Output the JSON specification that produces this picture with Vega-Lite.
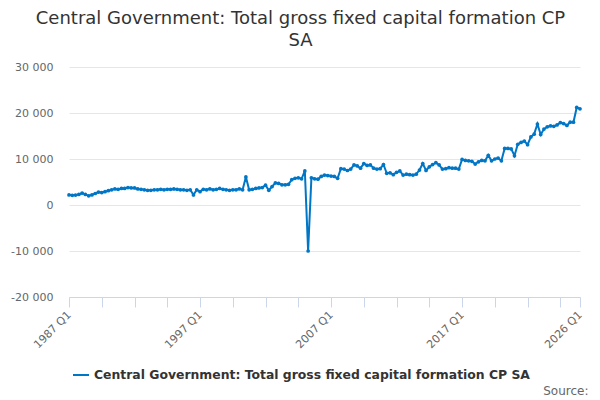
{
  "$schema": "https://vega.github.io/schema/vega-lite/v6.json",
  "width": 511,
  "height": 230,
  "autosize": {"type": "none"},
  "padding": {"left": 69, "top": 67, "right": 20, "bottom": 103},
  "background": "white",
  "config": {
    "font": "DejaVu Sans",
    "view": {"stroke": null}
  },
  "title": {
    "text": ["Central Government: Total gross fixed capital formation CP", "SA"],
    "fontSize": 18,
    "fontWeight": "normal",
    "color": "#333333",
    "anchor": "middle",
    "dx": -24,
    "offset": 11,
    "lineHeight": 22
  },
  "data": {
    "values": [
      {"q": "1987 Q1", "v": 2200}, {"q": "1987 Q2", "v": 2100}, {"q": "1987 Q3", "v": 2150}, {"q": "1987 Q4", "v": 2300},
      {"q": "1988 Q1", "v": 2600}, {"q": "1988 Q2", "v": 2300}, {"q": "1988 Q3", "v": 2000}, {"q": "1988 Q4", "v": 2200},
      {"q": "1989 Q1", "v": 2500}, {"q": "1989 Q2", "v": 2800}, {"q": "1989 Q3", "v": 2700}, {"q": "1989 Q4", "v": 2900},
      {"q": "1990 Q1", "v": 3100}, {"q": "1990 Q2", "v": 3300}, {"q": "1990 Q3", "v": 3500}, {"q": "1990 Q4", "v": 3400},
      {"q": "1991 Q1", "v": 3600}, {"q": "1991 Q2", "v": 3600}, {"q": "1991 Q3", "v": 3800}, {"q": "1991 Q4", "v": 3700},
      {"q": "1992 Q1", "v": 3700}, {"q": "1992 Q2", "v": 3500}, {"q": "1992 Q3", "v": 3400}, {"q": "1992 Q4", "v": 3300},
      {"q": "1993 Q1", "v": 3200}, {"q": "1993 Q2", "v": 3200}, {"q": "1993 Q3", "v": 3300}, {"q": "1993 Q4", "v": 3300},
      {"q": "1994 Q1", "v": 3400}, {"q": "1994 Q2", "v": 3300}, {"q": "1994 Q3", "v": 3400}, {"q": "1994 Q4", "v": 3400},
      {"q": "1995 Q1", "v": 3500}, {"q": "1995 Q2", "v": 3400}, {"q": "1995 Q3", "v": 3300}, {"q": "1995 Q4", "v": 3300},
      {"q": "1996 Q1", "v": 3200}, {"q": "1996 Q2", "v": 3300}, {"q": "1996 Q3", "v": 2200}, {"q": "1996 Q4", "v": 3300},
      {"q": "1997 Q1", "v": 2900}, {"q": "1997 Q2", "v": 3400}, {"q": "1997 Q3", "v": 3300}, {"q": "1997 Q4", "v": 3500},
      {"q": "1998 Q1", "v": 3300}, {"q": "1998 Q2", "v": 3400}, {"q": "1998 Q3", "v": 3600}, {"q": "1998 Q4", "v": 3400},
      {"q": "1999 Q1", "v": 3300}, {"q": "1999 Q2", "v": 3200}, {"q": "1999 Q3", "v": 3300}, {"q": "1999 Q4", "v": 3300},
      {"q": "2000 Q1", "v": 3500}, {"q": "2000 Q2", "v": 3300}, {"q": "2000 Q3", "v": 6100}, {"q": "2000 Q4", "v": 3300},
      {"q": "2001 Q1", "v": 3400}, {"q": "2001 Q2", "v": 3600}, {"q": "2001 Q3", "v": 3700}, {"q": "2001 Q4", "v": 3800},
      {"q": "2002 Q1", "v": 4300}, {"q": "2002 Q2", "v": 3200}, {"q": "2002 Q3", "v": 4000}, {"q": "2002 Q4", "v": 4800},
      {"q": "2003 Q1", "v": 4700}, {"q": "2003 Q2", "v": 4400}, {"q": "2003 Q3", "v": 4400}, {"q": "2003 Q4", "v": 4500},
      {"q": "2004 Q1", "v": 5500}, {"q": "2004 Q2", "v": 5800}, {"q": "2004 Q3", "v": 5900}, {"q": "2004 Q4", "v": 5700},
      {"q": "2005 Q1", "v": 7400}, {"q": "2005 Q2", "v": -10000}, {"q": "2005 Q3", "v": 5900}, {"q": "2005 Q4", "v": 5700},
      {"q": "2006 Q1", "v": 5600}, {"q": "2006 Q2", "v": 6200}, {"q": "2006 Q3", "v": 6500}, {"q": "2006 Q4", "v": 6400},
      {"q": "2007 Q1", "v": 6300}, {"q": "2007 Q2", "v": 6200}, {"q": "2007 Q3", "v": 5800}, {"q": "2007 Q4", "v": 7900},
      {"q": "2008 Q1", "v": 7800}, {"q": "2008 Q2", "v": 7500}, {"q": "2008 Q3", "v": 7800}, {"q": "2008 Q4", "v": 8700},
      {"q": "2009 Q1", "v": 8500}, {"q": "2009 Q2", "v": 8000}, {"q": "2009 Q3", "v": 9000}, {"q": "2009 Q4", "v": 8600},
      {"q": "2010 Q1", "v": 8700}, {"q": "2010 Q2", "v": 8000}, {"q": "2010 Q3", "v": 7800}, {"q": "2010 Q4", "v": 7900},
      {"q": "2011 Q1", "v": 8800}, {"q": "2011 Q2", "v": 6900}, {"q": "2011 Q3", "v": 7000}, {"q": "2011 Q4", "v": 6600},
      {"q": "2012 Q1", "v": 7100}, {"q": "2012 Q2", "v": 7400}, {"q": "2012 Q3", "v": 6500}, {"q": "2012 Q4", "v": 6700},
      {"q": "2013 Q1", "v": 6600}, {"q": "2013 Q2", "v": 6500}, {"q": "2013 Q3", "v": 6700}, {"q": "2013 Q4", "v": 7600},
      {"q": "2014 Q1", "v": 9000}, {"q": "2014 Q2", "v": 7500}, {"q": "2014 Q3", "v": 8300}, {"q": "2014 Q4", "v": 8800},
      {"q": "2015 Q1", "v": 9200}, {"q": "2015 Q2", "v": 8700}, {"q": "2015 Q3", "v": 7800}, {"q": "2015 Q4", "v": 7900},
      {"q": "2016 Q1", "v": 8100}, {"q": "2016 Q2", "v": 8000}, {"q": "2016 Q3", "v": 8000}, {"q": "2016 Q4", "v": 7800},
      {"q": "2017 Q1", "v": 9900}, {"q": "2017 Q2", "v": 9700}, {"q": "2017 Q3", "v": 9600}, {"q": "2017 Q4", "v": 9500},
      {"q": "2018 Q1", "v": 8900}, {"q": "2018 Q2", "v": 9400}, {"q": "2018 Q3", "v": 9700}, {"q": "2018 Q4", "v": 9600},
      {"q": "2019 Q1", "v": 10800}, {"q": "2019 Q2", "v": 9600}, {"q": "2019 Q3", "v": 10000}, {"q": "2019 Q4", "v": 10200},
      {"q": "2020 Q1", "v": 9600}, {"q": "2020 Q2", "v": 12300}, {"q": "2020 Q3", "v": 12300}, {"q": "2020 Q4", "v": 12200},
      {"q": "2021 Q1", "v": 10700}, {"q": "2021 Q2", "v": 13200}, {"q": "2021 Q3", "v": 13600}, {"q": "2021 Q4", "v": 13900},
      {"q": "2022 Q1", "v": 13100}, {"q": "2022 Q2", "v": 14800}, {"q": "2022 Q3", "v": 15400}, {"q": "2022 Q4", "v": 17600},
      {"q": "2023 Q1", "v": 15300}, {"q": "2023 Q2", "v": 16500}, {"q": "2023 Q3", "v": 17000}, {"q": "2023 Q4", "v": 17200},
      {"q": "2024 Q1", "v": 17100}, {"q": "2024 Q2", "v": 17400}, {"q": "2024 Q3", "v": 17900}, {"q": "2024 Q4", "v": 17700},
      {"q": "2025 Q1", "v": 17300}, {"q": "2025 Q2", "v": 18000}, {"q": "2025 Q3", "v": 18000}, {"q": "2025 Q4", "v": 21200},
      {"q": "2026 Q1", "v": 20900}
    ]
  },
  "mark": {
    "type": "line",
    "strokeWidth": 2,
    "point": {"filled": true, "size": 14}
  },
  "encoding": {
    "x": {
      "field": "q",
      "type": "ordinal",
      "scale": {"type": "point", "padding": 0},
      "axis": {
        "values": ["1987 Q1", "1989 Q3", "1992 Q1", "1994 Q3", "1997 Q1", "1999 Q3", "2002 Q1", "2004 Q3", "2007 Q1", "2009 Q3", "2012 Q1", "2014 Q3", "2017 Q1", "2019 Q3", "2022 Q1", "2024 Q3", "2026 Q1"],
        "labelExpr": "indexof(['1987 Q1','1997 Q1','2007 Q1','2017 Q1','2026 Q1'], datum.value) >= 0 ? datum.value : ''",
        "labelAngle": -45,
        "labelAlign": "right",
        "labelBaseline": "middle",
        "labelFontSize": 11,
        "labelColor": "#666666",
        "labelPadding": 6,
        "labelOverlap": false,
        "tickSize": 10,
        "tickColor": "#ccd6eb",
        "domainColor": "#ccd6eb",
        "grid": false,
        "title": "Source:",
        "titleX": 519,
        "titleY": 97,
        "titleAlign": "right",
        "titleBaseline": "alphabetic",
        "titleFontWeight": "normal",
        "titleFontSize": 12,
        "titleColor": "#666666"
      }
    },
    "y": {
      "field": "v",
      "type": "quantitative",
      "scale": {"domain": [-20000, 30000], "nice": false},
      "axis": {
        "values": [-20000, -10000, 0, 10000, 20000, 30000],
        "labelExpr": "(datum.value < 0 ? '-' : '') + replace(format(abs(datum.value), ','), ',', ' ')",
        "grid": true,
        "gridColor": "#e6e6e6",
        "domain": false,
        "ticks": false,
        "labelPadding": 16,
        "labelFontSize": 11,
        "labelColor": "#666666",
        "title": null
      }
    },
    "color": {
      "datum": "Central Government: Total gross fixed capital formation CP SA",
      "scale": {"range": ["#0076c6"]},
      "legend": {
        "orient": "none",
        "legendX": 3,
        "legendY": 299,
        "title": null,
        "symbolType": "stroke",
        "symbolStrokeWidth": 2,
        "symbolSize": 256,
        "labelFontSize": 12.4,
        "labelFontWeight": "bold",
        "labelColor": "#333333",
        "labelLimit": 600
      }
    }
  }
}
